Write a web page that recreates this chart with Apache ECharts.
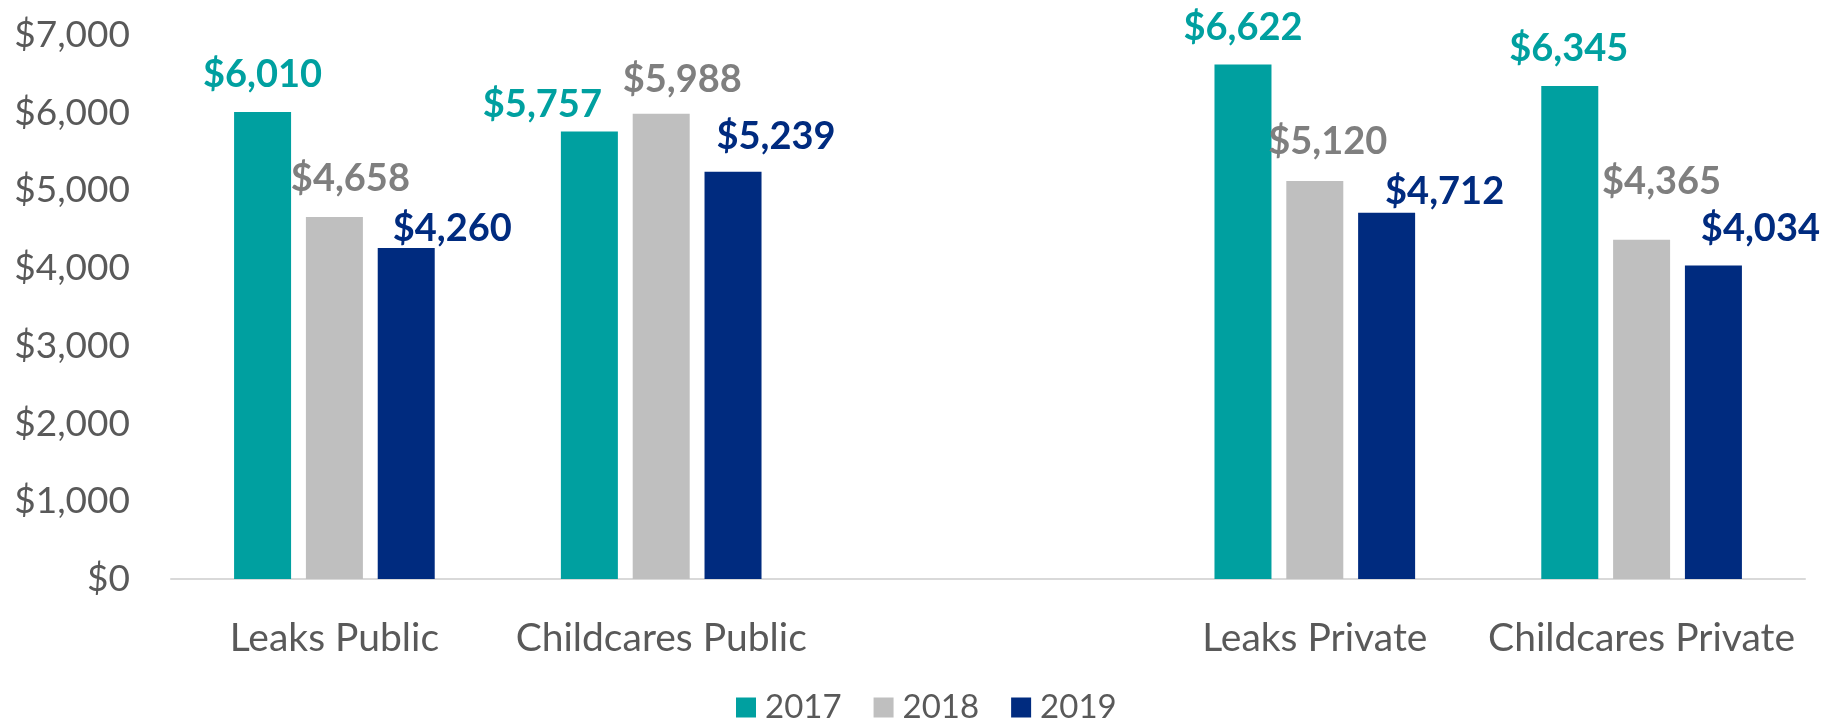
<!DOCTYPE html>
<html><head><meta charset="utf-8">
<script src="https://cdn.jsdelivr.net/npm/echarts@6/dist/echarts.min.js"></script>
<style>html,body{margin:0;padding:0;background:#fff}#c{width:1825px;height:719px}</style>
</head><body><div id="c"></div>
<script>
const categories = ['Leaks Public', 'Childcares Public', '', 'Leaks Private', 'Childcares Private'];
const seriesNames = ['2017', '2018', '2019'];
const values2017 = [6010, 5757, null, 6622, 6345];
const values2018 = [4658, 5988, null, 5120, 4365];
const values2019 = [4260, 5239, null, 4712, 4034];
const yTicks = [0, 1000, 2000, 3000, 4000, 5000, 6000, 7000];

// styling (not data)
const barColors = ['#00A0A0', '#BFBFBF', '#002B7F'];
const labelColors = ['#00A0A0', '#7F7F7F', '#002B7F'];
const labelNudge = [
  [[0,0],[-47,10],[0,0],[0,0],[-1,0]],
  [[16,-1],[21,3],[0,0],[13,-2],[20,-21]],
  [[46,18],[43,2],[0,0],[58,16],[47,0]]
];
const FONT = 'Lato';
const money = v => '$' + Number(v).toLocaleString('en-US');

const chart = echarts.init(document.getElementById('c'), null, {renderer: 'canvas'});
const allValues = [values2017, values2018, values2019];
const series = allValues.map((vals, si) => ({
  name: seriesNames[si],
  type: 'bar',
  barWidth: 57,
  barGap: '26%',
  itemStyle: {color: barColors[si]},
  label: {
    show: true, position: 'top', distance: 18,
    fontFamily: FONT, fontWeight: 'bold', fontSize: 38, color: labelColors[si],
    formatter: p => money(p.value)
  },
  data: vals.map((v, i) => ({value: v, label: {offset: labelNudge[si][i]}}))
}));

chart.setOption({
  animation: false,
  backgroundColor: '#fff',
  textStyle: {fontFamily: FONT},
  grid: {left: 171, right: 20, top: 35, bottom: 140, containLabel: false},
  legend: {
    data: seriesNames, top: 686, left: 731, padding: 5,
    itemWidth: 20, itemHeight: 20, itemGap: 32, icon: 'rect',
    textStyle: {fontFamily: FONT, fontSize: 33, color: '#595959', padding: [0,0,0,4]}
  },
  xAxis: {
    type: 'category', data: categories,
    axisTick: {show: false},
    axisLine: {lineStyle: {color: '#D9D9D9', width: 2}},
    axisLabel: {interval: 0, margin: 40, fontFamily: FONT, fontSize: 39, color: '#595959'}
  },
  yAxis: {
    type: 'value', min: yTicks[0], max: yTicks[yTicks.length-1], interval: yTicks[1]-yTicks[0],
    splitLine: {show: false}, axisLine: {show: false}, axisTick: {show: false},
    axisLabel: {margin: 41, fontFamily: FONT, fontSize: 37, color: '#595959', formatter: v => money(v)}
  },
  series: series
});
</script></body></html>
